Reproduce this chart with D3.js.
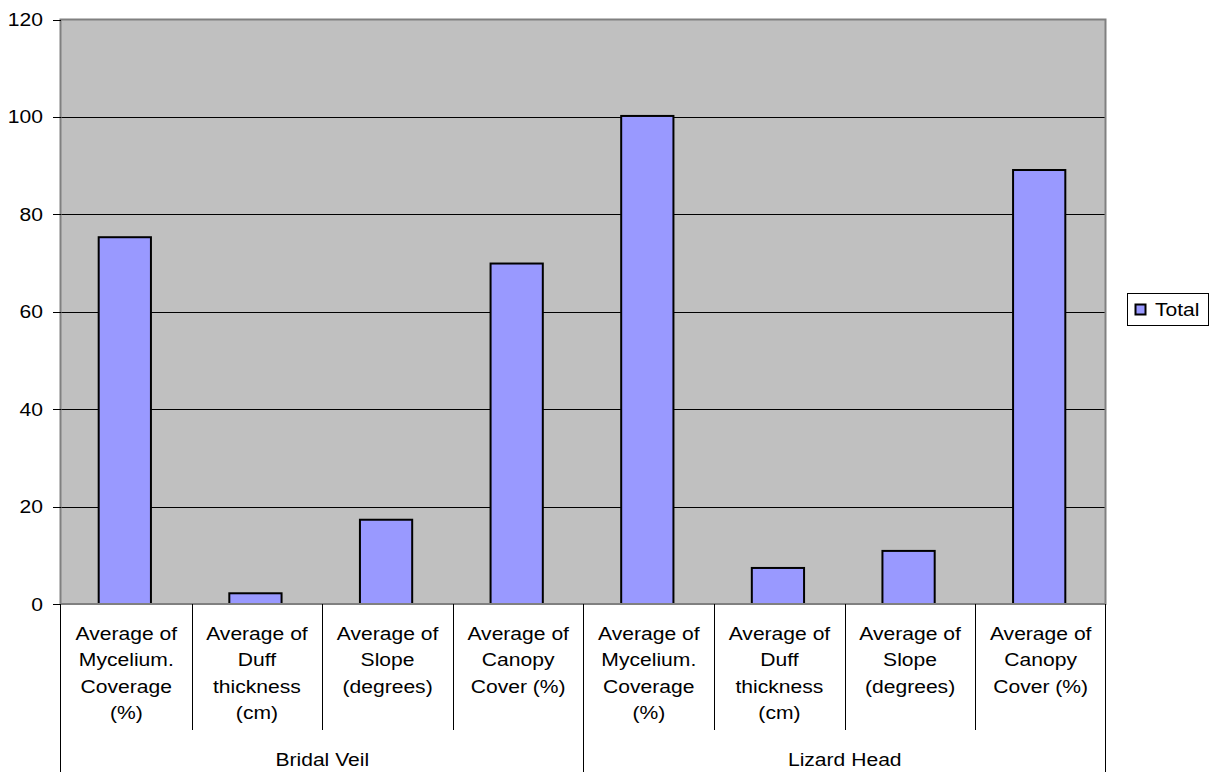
<!DOCTYPE html>
<html>
<head>
<meta charset="utf-8">
<script src="https://cdn.jsdelivr.net/npm/d3@7"></script>
<style>
  body { margin: 0; background: #fff; }
  svg text { font-family: "Liberation Sans", Arial, sans-serif; font-size: 18.5px; fill: #000; }
</style>
</head>
<body>
<svg width="1213" height="772"></svg>
<script>
var groups = ["Bridal Veil", "Lizard Head"];

var measures = [
  ["Average of", "Mycelium.", "Coverage", "(%)"],
  ["Average of", "Duff", "thickness", "(cm)"],
  ["Average of", "Slope", "(degrees)"],
  ["Average of", "Canopy", "Cover (%)"]
];

var bridalVeil = [75.3, 2.2, 17.3, 69.9];
var lizardHead = [100.2, 7.4, 10.9, 89.1];

var yTicks = [0, 20, 40, 60, 80, 100, 120];

var seriesName = "Total";

// flatten into one row per bar
var rows = [];
[bridalVeil, lizardHead].forEach(function(vals, g) {
  vals.forEach(function(v, m) {
    rows.push({ group: groups[g], lines: measures[m], value: v, key: g + "-" + m });
  });
});

var svg = d3.select("svg");
var pL = 61, pR = 1106, pT = 19.5, pB = 604;
var sx = 1.14; // text is a bit wide in the reference

var x = d3.scaleBand()
    .domain(rows.map(function(d) { return d.key; }))
    .range([pL, pR])
    .paddingInner(0);

var xg = d3.scaleBand()
    .domain(groups)
    .range([pL, pR]);

var y = d3.scaleLinear()
    .domain([0, 120])
    .range([pB, pT]);

// plot background
svg.append("rect")
    .attr("x", pL).attr("y", pT)
    .attr("width", pR - pL).attr("height", pB - pT)
    .attr("fill", "#c0c0c0");

// gridlines
svg.append("g")
  .selectAll("line")
  .data(yTicks.filter(function(t) { return t > 0 && t < 120; }))
  .enter().append("line")
    .attr("x1", pL).attr("x2", pR)
    .attr("y1", function(d) { return Math.round(y(d)) + 0.5; })
    .attr("y2", function(d) { return Math.round(y(d)) + 0.5; })
    .attr("stroke", "#000")
    .attr("stroke-width", 1);

// bars
var bw = x.bandwidth() * 0.4;
svg.append("g")
  .selectAll("rect")
  .data(rows)
  .enter().append("rect")
    .attr("x", function(d) { return x(d.key) + (x.bandwidth() - bw) / 2 - 1.5; })
    .attr("y", function(d) { return y(d.value); })
    .attr("width", bw)
    .attr("height", function(d) { return pB - y(d.value); })
    .attr("fill", "#9999ff")
    .attr("stroke", "#000")
    .attr("stroke-width", 2);

// plot border
svg.append("rect")
    .attr("x", pL - 0.5).attr("y", pT)
    .attr("width", pR - pL).attr("height", pB - pT)
    .attr("fill", "none")
    .attr("stroke", "#808080")
    .attr("stroke-width", 2);

// y axis ticks and labels
var yAxis = svg.append("g");
yAxis.selectAll("line")
  .data(yTicks)
  .enter().append("line")
    .attr("x1", 53).attr("x2", pL)
    .attr("y1", function(d) { return Math.round(y(d)) + 0.5; })
    .attr("y2", function(d) { return Math.round(y(d)) + 0.5; })
    .attr("stroke", "#000");

yAxis.selectAll("text")
  .data(yTicks)
  .enter().append("text")
    .attr("text-anchor", "end")
    .attr("transform", function(d) { return "translate(43," + (y(d) + 6.5) + ") scale(" + sx + ",1)"; })
    .text(function(d) { return d; });

// category axis: separators
var cat = svg.append("g");
cat.selectAll("line.inner")
  .data(rows.filter(function(d, i) { return i % 4 !== 0; }))
  .enter().append("line")
    .attr("class", "inner")
    .attr("x1", function(d) { return Math.round(x(d.key)) + 0.5; })
    .attr("x2", function(d) { return Math.round(x(d.key)) + 0.5; })
    .attr("y1", pB).attr("y2", 730)
    .attr("stroke", "#000");

cat.selectAll("line.outer")
  .data(groups.concat(["end"]))
  .enter().append("line")
    .attr("class", "outer")
    .attr("x1", function(d) { return d === "end" ? pR - 0.5 : Math.round(xg(d)) - 0.5; })
    .attr("x2", function(d) { return d === "end" ? pR - 0.5 : Math.round(xg(d)) - 0.5; })
    .attr("y1", pB).attr("y2", 772)
    .attr("stroke", "#000");

// inner labels
var lineH = 26.5;
cat.selectAll("g.lab")
  .data(rows)
  .enter().append("g")
    .attr("class", "lab")
  .each(function(d) {
    var cx = x(d.key) + x.bandwidth() / 2;
    d3.select(this).selectAll("text")
      .data(d.lines)
      .enter().append("text")
        .attr("text-anchor", "middle")
        .attr("transform", function(t, i) { return "translate(" + cx + "," + (639.5 + i * lineH) + ") scale(" + sx + ",1)"; })
        .text(function(t) { return t; });
  });

// group labels
cat.selectAll("text.grp")
  .data(groups)
  .enter().append("text")
    .attr("class", "grp")
    .attr("text-anchor", "middle")
    .attr("transform", function(d) { return "translate(" + (xg(d) + xg.bandwidth() / 2) + ",766) scale(" + sx + ",1)"; })
    .text(function(d) { return d; });

// legend
var lg = svg.append("g");
lg.append("rect")
    .attr("x", 1127.5).attr("y", 293.5)
    .attr("width", 81).attr("height", 32)
    .attr("fill", "#fff")
    .attr("stroke", "#000");
lg.append("rect")
    .attr("x", 1135.5).attr("y", 304.5)
    .attr("width", 10).attr("height", 10)
    .attr("fill", "#9999ff")
    .attr("stroke", "#000")
    .attr("stroke-width", 2);
lg.append("text")
    .attr("transform", "translate(1155,316) scale(" + sx + ",1)")
    .text(seriesName);
</script>
</body>
</html>
